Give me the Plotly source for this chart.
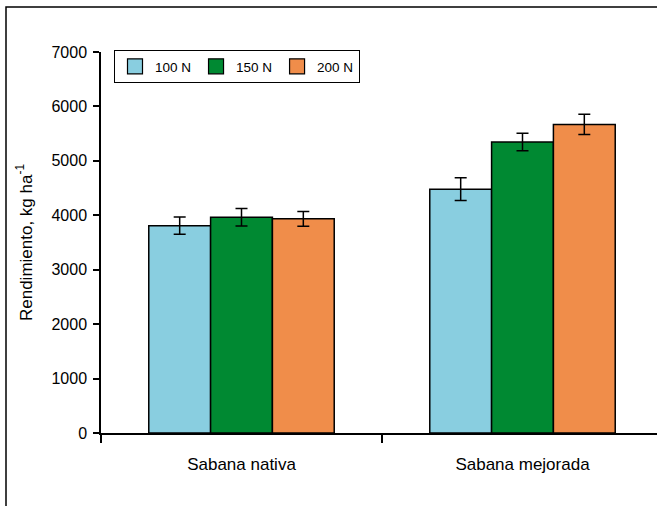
import plotly.graph_objects as go

categories = ["Sabana nativa", "Sabana mejorada"]
series_names = ["100 N", "150 N", "200 N"]
values_100 = [3810, 4480]
values_150 = [3965, 5345]
values_200 = [3935, 5670]
errors_100 = [160, 210]
errors_150 = [160, 160]
errors_200 = [135, 185]
colors = ["#89CEE0", "#008932", "#F08D4A"]

fig = go.Figure()
for name, vals, errs, col in zip(series_names,
                                 [values_100, values_150, values_200],
                                 [errors_100, errors_150, errors_200],
                                 colors):
    fig.add_trace(go.Bar(
        x=categories, y=vals, name=name, showlegend=False,
        marker=dict(color=col, line=dict(color="black", width=1.5)),
        error_y=dict(type="data", array=errs, visible=True,
                     color="black", thickness=1.5, width=6),
    ))
# legend entries (square swatches)
for name, col in zip(series_names, colors):
    fig.add_trace(go.Scatter(
        x=[None], y=[None], mode="markers", name=name, showlegend=True,
        marker=dict(symbol="square", size=15, color=col,
                    line=dict(color="black", width=1.2)),
    ))

L, R, T, B = 101, 0, 52, 73
W, H = 657, 506
pw = W - L - R
ph = H - T - B

fig.update_layout(
    width=W, height=H,
    margin=dict(l=L, r=R, t=T, b=B),
    paper_bgcolor="white", plot_bgcolor="white",
    barmode="group", bargap=0.34, bargroupgap=0,
    font=dict(family="Liberation Sans, Arial, sans-serif", color="black", size=14),
    showlegend=True,
    legend=dict(
        orientation="h", x=(114 - L) / pw, y=(433 - 50) / ph,
        xanchor="left", yanchor="top",
        bordercolor="black", borderwidth=1, bgcolor="white",
        font=dict(size=13.5), itemwidth=30,
        tracegroupgap=0,
    ),
    xaxis=dict(
        type="category", range=[-0.5, -0.5 + pw / 281.0],
        showline=True, linecolor="black", linewidth=1.5,
        ticks="outside", tickson="boundaries", ticklen=8, tickwidth=1.5,
        tickcolor="black", showgrid=False, zeroline=False,
        tickfont=dict(size=17), ticklabelstandoff=15,
    ),
    yaxis=dict(
        range=[0, 7000], tickvals=[0, 1000, 2000, 3000, 4000, 5000, 6000, 7000],
        showline=True, linecolor="black", linewidth=1.5,
        ticks="outside", ticklen=6, tickwidth=1.5, tickcolor="black",
        showgrid=False, zeroline=False, tickfont=dict(size=16),
        ticklabelstandoff=3,
        title=dict(text="Rendimiento, kg ha<sup>-1</sup>", font=dict(size=17), standoff=15),
    ),
)

fig.add_shape(type="rect", xref="paper", yref="paper",
              x0=(6 - L) / pw, x1=1.2, y0=-0.4, y1=(433 - 7) / ph,
              line=dict(color="black", width=1.5), fillcolor="rgba(0,0,0,0)", layer="below")

fig.write_html("out.html", config={"displayModeBar": False},
               post_script="document.body.style.margin='0';")
